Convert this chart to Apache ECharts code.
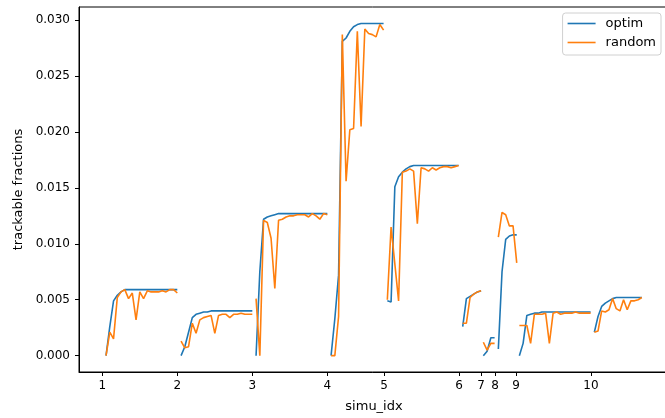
<!DOCTYPE html>
<html>
<head>
<meta charset="utf-8">
<script src="https://cdn.jsdelivr.net/npm/echarts@6/dist/echarts.min.js"></script>
<style>
  html, body { margin: 0; padding: 0; background: #fff; }
  #chart { width: 665px; height: 418px; }
</style>
</head>
<body>
<div id="chart"></div>
<script>
// tick labels on x (one per simulation) and where they sit on the index axis
const simuLabels = ['1', '2', '3', '4', '5', '6', '7', '8', '9', '10'];
const simuTicks = [0, 20, 40, 60, 75.1, 95.1, 101, 104.7, 110.3, 130.3];
const yTicks = [0, 0.005, 0.01, 0.015, 0.02, 0.025, 0.03];

// first index and index step of each simulation block
const segStart = [1, 21, 41, 61, 76, 96.1, 101.6, 105.6, 111.2, 131.2];
const segStep = [1, 1, 1, 1, 1, 0.98, 1, 0.98, 1, 0.973];

// optim curve, one list per simulation
const optim1 = [0, 0.0026, 0.0049, 0.0054, 0.0057, 0.0059, 0.0059, 0.0059, 0.0059, 0.0059, 0.0059, 0.0059, 0.0059, 0.0059, 0.0059, 0.0059, 0.0059, 0.0059, 0.0059, 0.0059];
const optim2 = [0, 0.0008, 0.0021, 0.0034, 0.0037, 0.0038, 0.0039, 0.0039, 0.004, 0.004, 0.004, 0.004, 0.004, 0.004, 0.004, 0.004, 0.004, 0.004, 0.004, 0.004];
const optim3 = [0, 0.0075, 0.0122, 0.0124, 0.0125, 0.0126, 0.0127, 0.0127, 0.0127, 0.0127, 0.0127, 0.0127, 0.0127, 0.0127, 0.0127, 0.0127, 0.0127, 0.0127, 0.0127, 0.0127];
const optim4 = [0, 0.0033, 0.0072, 0.0281, 0.0284, 0.029, 0.0294, 0.0296, 0.0297, 0.0297, 0.0297, 0.0297, 0.0297, 0.0297, 0.0297];
const optim5 = [0.0049, 0.0048, 0.0151, 0.016, 0.0164, 0.0167, 0.0169, 0.017, 0.017, 0.017, 0.017, 0.017, 0.017, 0.017, 0.017, 0.017, 0.017, 0.017, 0.017, 0.017];
const optim6 = [0.0026, 0.0051, 0.0053, 0.0055, 0.0057, 0.0058];
const optim7 = [0, 0.0004, 0.0016, 0.0016];
const optim8 = [0.0006, 0.0075, 0.0104, 0.0107, 0.0108, 0.0108];
const optim9 = [0, 0.0011, 0.0036, 0.0037, 0.0038, 0.0038, 0.0039, 0.0039, 0.0039, 0.0039, 0.0039, 0.0039, 0.0039, 0.0039, 0.0039, 0.0039, 0.0039, 0.0039, 0.0039, 0.0039];
const optim10 = [0.0021, 0.0035, 0.0044, 0.0047, 0.0049, 0.0051, 0.0052, 0.0052, 0.0052, 0.0052, 0.0052, 0.0052, 0.0052, 0.0052];

// random curve, one list per simulation
const random1 = [0, 0.0021, 0.0015, 0.0052, 0.0057, 0.0059, 0.0051, 0.0056, 0.0032, 0.0057, 0.0051, 0.0058, 0.0057, 0.0057, 0.0057, 0.0058, 0.0057, 0.0059, 0.0059, 0.0056];
const random2 = [0.0013, 0.0007, 0.0008, 0.0029, 0.002, 0.0032, 0.0034, 0.0035, 0.0036, 0.002, 0.0036, 0.0037, 0.0037, 0.0034, 0.0037, 0.0037, 0.0038, 0.0037, 0.0037, 0.0037];
const random3 = [0.0051, 0, 0.0121, 0.0119, 0.0105, 0.006, 0.0121, 0.0122, 0.0124, 0.0125, 0.0125, 0.0126, 0.0126, 0.0126, 0.0124, 0.0127, 0.0125, 0.0122, 0.0127, 0.0126];
const random4 = [0, 0, 0.0035, 0.0287, 0.0156, 0.0202, 0.0203, 0.029, 0.0205, 0.0292, 0.0288, 0.0287, 0.0285, 0.0296, 0.0291];
const random5 = [0.005, 0.0115, 0.0082, 0.0049, 0.0164, 0.0165, 0.0167, 0.0165, 0.0118, 0.0168, 0.0167, 0.0165, 0.0168, 0.0166, 0.0168, 0.0169, 0.0169, 0.0168, 0.0169, 0.017];
const random6 = [0.0029, 0.0029, 0.0052, 0.0055, 0.0057, 0.0058];
const random7 = [0.0012, 0.0005, 0.0011, 0.0011];
const random8 = [0.0106, 0.0128, 0.0126, 0.0116, 0.0116, 0.0083];
const random9 = [0.0027, 0.0027, 0.0027, 0.0011, 0.0037, 0.0037, 0.0037, 0.0038, 0.0011, 0.0038, 0.0039, 0.0037, 0.0038, 0.0038, 0.0038, 0.0039, 0.0038, 0.0038, 0.0038, 0.0038];
const random10 = [0.0021, 0.0022, 0.004, 0.0039, 0.0041, 0.0051, 0.0042, 0.004, 0.005, 0.0041, 0.0049, 0.0049, 0.005, 0.0052];

const optimSegs = [optim1, optim2, optim3, optim4, optim5, optim6, optim7, optim8, optim9, optim10];
const randomSegs = [random1, random2, random3, random4, random5, random6, random7, random8, random9, random10];

const BLUE = '#1f77b4';
const ORANGE = '#ff7f0e';
const FONT = 'DejaVu Sans';

// one line series per simulation so the curve breaks between blocks
function segSeries(name, color, segs) {
  return segs.map((ys, s) => ({
    name: name,
    type: 'line',
    symbol: 'none',
    showSymbol: false,
    lineStyle: { width: 1.6, color: color },
    itemStyle: { color: color },
    data: ys.map((y, k) => [segStart[s] + k * segStep[s], y]),
    z: name === 'random' ? 3 : 2
  }));
}

const chart = echarts.init(document.getElementById('chart'), null, { renderer: 'canvas' });

const option = {
  animation: false,
  backgroundColor: '#fff',
  grid: {
    left: 79, right: -4, top: 7, bottom: 46,
    containLabel: false,
    outerBoundsMode: 'none',
    show: true, borderColor: '#000', borderWidth: 1, backgroundColor: 'transparent'
  },
  legend: {
    data: ['optim', 'random'],
    orient: 'vertical',
    right: 4, top: 13,
    icon: 'rect',
    itemWidth: 28, itemHeight: 1.6,
    itemGap: 4,
    padding: [3, 5, 5, 5],
    backgroundColor: '#fff',
    borderColor: '#d0d0d0', borderWidth: 1, borderRadius: 3,
    textStyle: { fontFamily: FONT, fontSize: 13, lineHeight: 15, color: '#000', padding: [0, 0, 0, 5] }
  },
  xAxis: {
    type: 'value',
    min: -6.21, max: 151.1,
    name: 'simu_idx',
    nameLocation: 'middle',
    nameGap: 28,
    nameTextStyle: { fontFamily: FONT, fontSize: 13, color: '#000' },
    splitLine: { show: false },
    axisLine: { show: true, onZero: false, lineStyle: { color: '#000', width: 1 } },
    axisTick: { show: true, length: 4, customValues: simuTicks, lineStyle: { color: '#000' } },
    axisLabel: {
      customValues: simuTicks,
      margin: 8,
      fontFamily: FONT, fontSize: 12, color: '#000',
      formatter: function (v) {
        let best = 0;
        simuTicks.forEach((t, i) => { if (Math.abs(t - v) < Math.abs(simuTicks[best] - v)) best = i; });
        return simuLabels[best];
      }
    }
  },
  yAxis: {
    type: 'value',
    min: -0.00146, max: 0.03117,
    name: 'trackable fractions',
    nameLocation: 'middle',
    nameGap: 50,
    nameTextStyle: { fontFamily: FONT, fontSize: 13, color: '#000' },
    splitLine: { show: false },
    axisLine: { show: true, onZero: false, lineStyle: { color: '#000', width: 1 } },
    axisTick: { show: true, length: 4, customValues: yTicks, lineStyle: { color: '#000' } },
    axisLabel: {
      customValues: yTicks,
      margin: 9,
      fontFamily: FONT, fontSize: 12, color: '#000',
      formatter: v => v.toFixed(3)
    }
  },
  series: segSeries('optim', BLUE, optimSegs).concat(segSeries('random', ORANGE, randomSegs))
};

chart.setOption(option);
</script>
</body>
</html>
